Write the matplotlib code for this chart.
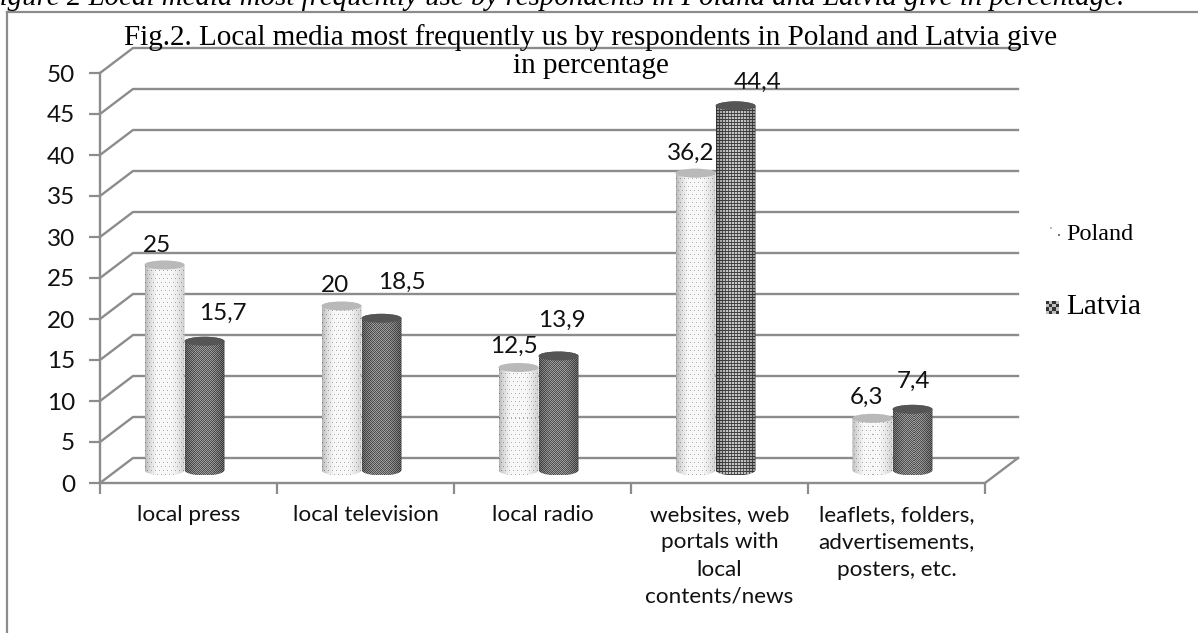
import matplotlib
matplotlib.use('Agg')
import matplotlib.pyplot as plt
import numpy as np
from matplotlib.patches import Ellipse, PathPatch
from matplotlib.path import Path

categories = ['local press', 'local television', 'local radio',
              'websites, web\nportals with\nlocal\ncontents/news',
              'leaflets, folders,\nadvertisements,\nposters, etc.']
poland = [25, 20, 12.5, 36.2, 6.3]
latvia = [15.7, 18.5, 13.9, 44.4, 7.4]
y_ticks = [0, 5, 10, 15, 20, 25, 30, 35, 40, 45, 50]

# value label offsets from the top of each cylinder, in pixels (right, up)
poland_nudge = [(-7, 20), (-6, 21), (-5, 21), (-5, 20), (-6, 21)]
latvia_nudge = [(18, 28), (20, 36), (3, 36), (22, 24), (1, 28)]

W, H = 1198, 633
GRID = '#8c8c8c'
SERIF = 'Liberation Serif'
SANS = 'Lato'

# plot box in pixels
LEFT, RIGHT, TOP, BOTTOM = 100, 985, 73, 483
PX_X = (RIGHT - LEFT) / len(categories)
PX_Y = (BOTTOM - TOP) / 50
DEPTH_X = 33 / PX_X
DEPTH_Y = 25 / PX_Y

BAR_W = 40 / PX_X
BAR_BASE = 13 / PX_Y     # cylinders stand in the middle of the floor
TOP_R = 4.5 / PX_Y
BOT_R = 5.5 / PX_Y
GROUP_SHIFT = -4 / PX_X


def shading(nx, edge_left, edge_right):
    # bright band in the middle of the cylinder, darker towards both sides
    t = np.linspace(0, 1, nx)
    left = np.clip(t / 0.3, 0, 1) ** 0.6
    right = np.clip((1 - t) / 0.35, 0, 1) ** 0.6
    return (edge_left + (1 - edge_left) * left) * (edge_right + (1 - edge_right) * right)


def texture(nx, ny, kind):
    yy, xx = np.mgrid[0:ny, 0:nx]
    if kind == 'dots':
        img = np.full((ny, nx), 0.98)
        img[(yy % 4 == 0) & ((xx + (yy // 4) * 2) % 4 == 0)] = 0.70
        img[(yy % 2 == 0) & (xx % 2 == 0)] -= 0.03
        return img * shading(nx, 0.72, 0.80)[None, :]
    if kind == 'check':
        img = np.where((xx + yy) % 2 == 0, 0.34, 0.64)
        img = img - 0.05 * ((yy // 2 + xx // 2) % 2)
        return img * shading(nx, 0.70, 0.62)[None, :]
    # woven grid of thin dark lines
    img = np.full((ny, nx), 0.78)
    img[yy % 3 == 0] = 0.26
    img[:, xx[0] % 3 == 0] = np.minimum(img[:, xx[0] % 3 == 0], 0.34)
    return img * shading(nx, 0.65, 0.65)[None, :]


def cylinder(ax, xc, value, kind, top_color, z):
    x0, x1 = xc - BAR_W / 2, xc + BAR_W / 2
    y0 = BAR_BASE
    y1 = y0 + value
    # outline: round the bottom from left to right, then over the top back to the left
    a = np.linspace(np.pi, 2 * np.pi, 30)
    low = np.column_stack([xc + BAR_W / 2 * np.cos(a), y0 + BOT_R * np.sin(a)])
    high = np.column_stack([xc + BAR_W / 2 * np.cos(a - np.pi), y1 + TOP_R * np.sin(a - np.pi)])
    body = np.vstack([low, high, low[:1]])
    clip = PathPatch(Path(body), transform=ax.transData, fc='none', ec='none')
    ax.add_patch(clip)
    nx = int(round(BAR_W * PX_X))
    ny = int(round((y1 - y0 + TOP_R + BOT_R) * PX_Y))
    im = ax.imshow(texture(nx, ny, kind), cmap='gray', vmin=0, vmax=1, origin='lower',
                   extent=(x0, x1, y0 - BOT_R, y1 + TOP_R), aspect='auto',
                   interpolation='nearest', zorder=z)
    im.set_clip_path(clip)
    ax.add_patch(Ellipse((xc, y1), BAR_W, 2 * TOP_R, fc=top_color, ec='none', zorder=z + 0.1, clip_on=False))


fig = plt.figure(figsize=(W / 100, H / 100), dpi=100, facecolor='white')

# page layer in pixels: caption, frame, title, legend
page = fig.add_axes([0, 0, 1, 1], zorder=2)
page.set_xlim(0, W)
page.set_ylim(H, 0)
page.axis('off')
page.plot([7, W], [12, 12], color=GRID, lw=1.6)
page.plot([7, 7], [12, H], color=GRID, lw=1.6)
page.text(1125, 5, 'Figure 2 Local media most frequently use by respondents in Poland and Latvia give in percentage.',
          family=SERIF, style='italic', fontsize=20.8, ha='right', va='baseline', color='black', clip_on=False)
page.text(590.5, 45, 'Fig.2. Local media most frequently us by respondents in Poland and Latvia give',
          family=SERIF, fontsize=20.95, ha='center', va='baseline')
page.text(591, 73, 'in percentage', family=SERIF, fontsize=20.95, ha='center', va='baseline')
page.text(1066, 234, 'Poland', family=SERIF, fontsize=17.4, ha='left', va='center')
page.text(1066, 307, 'Latvia', family=SERIF, fontsize=21.2, ha='left', va='center')
page.scatter([1051, 1059], [228, 235], s=[4, 2], c=['#bbbbbb', '#777777'], marker='s', linewidths=0)
page.imshow(np.indices((4, 4)).sum(axis=0) % 2 * 0.55 + 0.2, cmap='gray', vmin=0, vmax=1,
            extent=(1046, 1059, 314, 301), aspect='auto', interpolation='nearest')
page.set_xlim(0, W)
page.set_ylim(H, 0)

ax = fig.add_axes([LEFT / W, 1 - BOTTOM / H, (RIGHT - LEFT) / W, (BOTTOM - TOP) / H])
ax.patch.set_alpha(0)
n = len(categories)

# back wall lines and the slanted side wall
for v in y_ticks:
    ax.plot([0, DEPTH_X, n + DEPTH_X], [v, v + DEPTH_Y, v + DEPTH_Y], color=GRID, lw=1.7, clip_on=False, zorder=1)
ax.plot([n, n + DEPTH_X], [0, DEPTH_Y], color=GRID, lw=1.7, clip_on=False, zorder=1)

centers = np.arange(n) + 0.5 + GROUP_SHIFT
for i in range(n):
    cylinder(ax, centers[i] - BAR_W / 2, poland[i], 'dots', '#b9b9b9', 3)
    kind = 'grid' if i == 3 else 'check'
    cylinder(ax, centers[i] + BAR_W / 2, latvia[i], kind, '#555555', 4)
    for xc, v, nudge in [(centers[i] - BAR_W / 2, poland[i], poland_nudge[i]),
                         (centers[i] + BAR_W / 2, latvia[i], latvia_nudge[i])]:
        ax.annotate(f'{v:g}'.replace('.', ','), (xc, BAR_BASE + v),
                    xytext=(nudge[0] * 0.72, nudge[1] * 0.72), textcoords='offset points',
                    family=SANS, fontsize=17.5, color='#111111', ha='center', va='center',
                    annotation_clip=False, zorder=6)

ax.set_xlim(0, n)
ax.set_ylim(0, 50)
ax.set_yticks(y_ticks)
ax.set_xticks(range(n + 1))
ax.set_xticklabels([])
ax.set_xticks(np.arange(n) + 0.5, minor=True)
ax.set_xticklabels(categories, minor=True, family=SANS, fontsize=16.2, color='#111111', linespacing=1.45)
ax.tick_params(axis='x', which='minor', length=0, pad=16)
ax.tick_params(axis='x', which='major', length=8, width=1.6, color=GRID)
ax.tick_params(axis='y', length=8, width=1.6, color=GRID, pad=10, labelsize=17.5, labelcolor='#111111')
for lab in ax.get_yticklabels():
    lab.set_family(SANS)
for side in ['top', 'right']:
    ax.spines[side].set_visible(False)
for side in ['left', 'bottom']:
    ax.spines[side].set_color(GRID)
    ax.spines[side].set_linewidth(1.7)

fig.savefig('out.png', dpi=100)
